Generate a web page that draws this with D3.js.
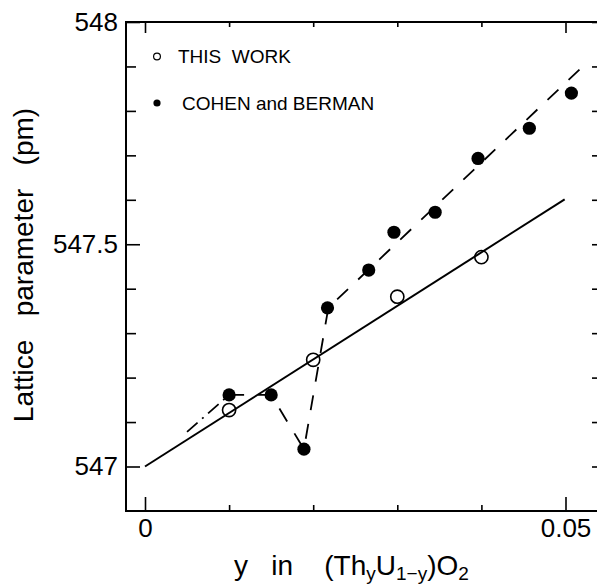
<!DOCTYPE html>
<html>
<head>
<meta charset="utf-8">
<script src="https://cdn.jsdelivr.net/npm/d3@7"></script>
<style>
  body { margin: 0; background: #fff; }
  svg { display: block; }
  text { font-family: "Liberation Sans", Arial, Helvetica, sans-serif; fill: #000; }
</style>
</head>
<body>
<svg width="597" height="584"></svg>
<script>
// THIS WORK (open circles)
var workX = [0.010, 0.020, 0.030, 0.040];
var workY = [547.127, 547.240, 547.382, 547.471];

// least squares line through this work
var fitX = [0, 0.0499];
var fitY = [547.0, 547.601];

// COHEN and BERMAN (filled circles)
var cohenX = [0.010, 0.0150, 0.0189, 0.0217, 0.0266, 0.0296, 0.0345, 0.0396, 0.0457, 0.0507];
var cohenY = [547.161, 547.161, 547.039, 547.357, 547.442, 547.527, 547.572, 547.693, 547.761, 547.840];

// dashed guide through cohen data
var guideX = [0.005, 0.010, 0.015, 0.0189, 0.0218, 0.0525];
var guideY = [547.078, 547.161, 547.161, 547.039, 547.357, 547.908];

var xMajor = [0, 0.05];
var xMinor = [0.01, 0.02, 0.03, 0.04];
var yMajor = [547, 547.5, 548];
var yMinor = [547.1, 547.2, 547.3, 547.4, 547.6, 547.7, 547.8, 547.9];

var legendLabels = ["THIS  WORK", "COHEN and BERMAN"];

var svg = d3.select("svg");
// note: "top" is taken by window.top, so use other names
var box = {left: 126, right: 599, top: 22, bottom: 511};

var x = d3.scaleLinear().domain([0, 0.05]).range([145, 565.5]);
var y = d3.scaleLinear().domain([547, 548]).range([466.5, 22]);

// frame
svg.append("rect")
  .attr("x", box.left).attr("y", box.top)
  .attr("width", box.right - box.left).attr("height", box.bottom - box.top)
  .attr("fill", "none").attr("stroke", "#000").attr("stroke-width", 2);

function styleAxis(g) {
  g.select(".domain").remove();
  g.selectAll("line").attr("stroke", "#000").attr("stroke-width", 1.6);
  g.selectAll("text").attr("font-size", 26).attr("font-family", "Liberation Sans, Arial, sans-serif");
}

// bottom
svg.append("g").attr("transform", "translate(0," + box.bottom + ")")
  .call(d3.axisBottom(x).tickValues(xMajor).tickSize(-14).tickPadding(8)
    .tickFormat(function (d) { return d === 0 ? "0" : d3.format(".2f")(d); }))
  .call(styleAxis);
svg.append("g").attr("transform", "translate(0," + box.bottom + ")")
  .call(d3.axisBottom(x).tickValues(xMinor).tickSize(-6).tickFormat(""))
  .call(styleAxis);
// top
svg.append("g").attr("transform", "translate(0," + box.top + ")")
  .call(d3.axisTop(x).tickValues(xMajor).tickSize(-11).tickFormat(""))
  .call(styleAxis);
svg.append("g").attr("transform", "translate(0," + box.top + ")")
  .call(d3.axisTop(x).tickValues(xMinor).tickSize(-5).tickFormat(""))
  .call(styleAxis);
// left
svg.append("g").attr("transform", "translate(" + box.left + ",0)")
  .call(d3.axisLeft(y).tickValues(yMajor).tickSize(-14).tickPadding(8)
    .tickFormat(function (d) { return d % 1 === 0 ? d3.format("d")(d) : d3.format(".1f")(d); }))
  .call(styleAxis);
svg.append("g").attr("transform", "translate(" + box.left + ",0)")
  .call(d3.axisLeft(y).tickValues(yMinor).tickSize(-10).tickFormat(""))
  .call(styleAxis);
// right
svg.append("g").attr("transform", "translate(" + box.right + ",0)")
  .call(d3.axisRight(y).tickValues(yMajor.concat(yMinor)).tickSize(-7).tickFormat(""))
  .call(styleAxis);

// lines
var line = d3.line().x(function (d) { return x(d[0]); }).y(function (d) { return y(d[1]); });

svg.append("path")
  .datum(d3.zip(fitX, fitY))
  .attr("d", line)
  .attr("fill", "none").attr("stroke", "#000").attr("stroke-width", 2);

var guide = d3.zip(guideX, guideY);
svg.append("path")
  .datum(guide.slice(0, 2))
  .attr("d", line)
  .attr("fill", "none").attr("stroke", "#000").attr("stroke-width", 1.8)
  .attr("stroke-dasharray", "14,6,2,6");
svg.append("path")
  .datum(guide.slice(1))
  .attr("d", line)
  .attr("fill", "none").attr("stroke", "#000").attr("stroke-width", 1.8)
  .attr("stroke-dasharray", "15,14");

// points
svg.selectAll("circle.work")
  .data(d3.zip(workX, workY))
  .enter().append("circle")
  .attr("class", "work")
  .attr("cx", function (d) { return x(d[0]); })
  .attr("cy", function (d) { return y(d[1]); })
  .attr("r", 6.6)
  .attr("fill", "none").attr("stroke", "#000").attr("stroke-width", 1.6);

svg.selectAll("circle.cohen")
  .data(d3.zip(cohenX, cohenY))
  .enter().append("circle")
  .attr("class", "cohen")
  .attr("cx", function (d) { return x(d[0]); })
  .attr("cy", function (d) { return y(d[1]); })
  .attr("r", 6.6)
  .attr("fill", "#000");

// legend
var legend = svg.append("g");
legend.append("circle").attr("cx", 157).attr("cy", 56.5).attr("r", 3.4)
  .attr("fill", "none").attr("stroke", "#000").attr("stroke-width", 1.2);
legend.append("text").attr("x", 178).attr("y", 63).attr("font-size", 19)
  .style("white-space", "pre").text(legendLabels[0]);
legend.append("circle").attr("cx", 157).attr("cy", 103).attr("r", 3.6).attr("fill", "#000");
legend.append("text").attr("x", 182).attr("y", 110).attr("font-size", 19)
  .style("white-space", "pre").text(legendLabels[1]);

// axis titles
svg.append("text")
  .attr("transform", "translate(33,265) rotate(-90)")
  .attr("text-anchor", "middle")
  .attr("font-size", 28)
  .style("white-space", "pre")
  .text("Lattice   parameter   (pm)");

var xt = svg.append("text")
  .attr("x", 234).attr("y", 575)
  .attr("font-size", 28)
  .style("white-space", "pre");
xt.append("tspan").text("y   in    (Th");
xt.append("tspan").attr("font-size", 19).attr("dy", 5).text("y");
xt.append("tspan").attr("dy", -5).text("U");
xt.append("tspan").attr("font-size", 19).attr("dy", 5).text("1\u2212y");
xt.append("tspan").attr("dy", -5).text(")O");
xt.append("tspan").attr("font-size", 19).attr("dy", 5).text("2");
</script>
</body>
</html>
